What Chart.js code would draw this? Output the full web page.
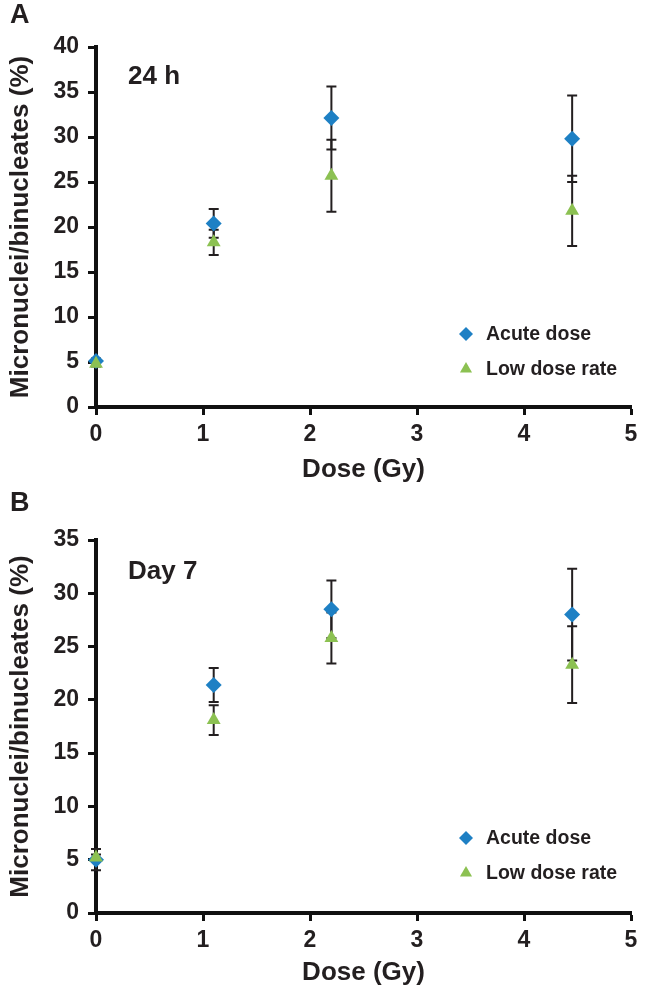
<!DOCTYPE html>
<html>
<head>
<meta charset="utf-8">
<script src="https://cdn.jsdelivr.net/npm/chart.js@4.4.1/dist/chart.umd.min.js"></script>
<style>
    body { margin: 0; background: #fff; position: relative; }
    canvas { display: block; }
    .tag {
        position: absolute; left: 10px;
        font: bold 27px "Liberation Sans", Arial, sans-serif;
        line-height: 27px; color: #231f20;
    }
</style>
</head>
<body>
<span class="tag" style="top:1px">A</span>
<span class="tag" style="top:489px">B</span>
<canvas id="chartA" width="647" height="497"></canvas>
<canvas id="chartB" width="647" height="497"></canvas>
<script>
const doses = [0, 1.1, 2.2, 4.45];
const doseTicks = [0, 1, 2, 3, 4, 5];
const seriesLabels = ["Acute dose", "Low dose rate"];

// panel A, 24 h
const acute24h = [5.1, 20.4, 32.1, 29.8];
const acute24hErr = [0.3, 1.6, 3.5, 4.8];
const lowRate24h = [4.8, 18.3, 25.7, 21.8];
const lowRate24hErr = [0.3, 1.4, 4.0, 3.9];

// panel B, day 7
const acuteDay7 = [5.0, 21.4, 28.5, 28.0];
const acuteDay7Err = [1.0, 1.6, 2.7, 4.3];
const lowRateDay7 = [5.2, 18.1, 25.8, 23.3];
const lowRateDay7Err = [0.3, 1.4, 2.4, 3.6];

const FONT = '"Liberation Sans", Arial, sans-serif';
const INK = "#231f20";
const BLUE = "#1e80c4";
const GREEN = "#8cc152";

// vertical error bars with caps, under the markers
const errorBars = {
    id: "errorBars",
    beforeDatasetsDraw(chart) {
        const ctx = chart.ctx;
        const xs = chart.scales.x;
        const ys = chart.scales.y;
        ctx.save();
        ctx.strokeStyle = INK;
        ctx.lineWidth = 2;
        chart.data.datasets.forEach((ds) => {
            ds.data.forEach((pt, i) => {
                const e = ds.errors[i];
                const px = xs.getPixelForValue(pt.x);
                const top = ys.getPixelForValue(pt.y + e);
                const bot = ys.getPixelForValue(pt.y - e);
                ctx.beginPath();
                ctx.moveTo(px, top);
                ctx.lineTo(px, bot);
                ctx.moveTo(px - 5, top);
                ctx.lineTo(px + 5, top);
                ctx.moveTo(px - 5, bot);
                ctx.lineTo(px + 5, bot);
                ctx.stroke();
            });
        });
        ctx.restore();
    },
};

// legend in the lower right corner of the plot + the "24 h" / "Day 7" note
const panelText = {
    id: "panelText",
    afterDraw(chart, args, opts) {
        const ctx = chart.ctx;
        const area = chart.chartArea;
        ctx.save();
        ctx.textBaseline = "middle";
        ctx.fillStyle = INK;
        ctx.font = "bold 26px " + FONT;
        ctx.fillText(opts.note, area.left + 32, area.top + opts.noteY);

        ctx.font = "bold 19.5px " + FONT;
        chart.data.datasets.forEach((ds, i) => {
            const y = area.bottom - opts.legendY + i * 35;
            ctx.fillStyle = ds.backgroundColor;
            Chart.helpers.drawPoint(ctx, { pointStyle: ds.pointStyle, radius: 7, borderWidth: 0, rotation: 0 }, area.right - 165, y);
            ctx.fillStyle = INK;
            ctx.fillText(ds.label, area.right - 145, y + 1);
        });
        ctx.restore();
    },
};

function buildChart(id, cfg) {
    const tickFont = { family: FONT, size: 23, weight: "bold" };
    const titleFont = { family: FONT, size: 26, weight: "bold" };
    return new Chart(document.getElementById(id), {
        type: "scatter",
        data: {
            datasets: [
                {
                    label: seriesLabels[0],
                    data: doses.map((d, i) => ({ x: d, y: cfg.acute[i] })),
                    errors: cfg.acuteErr,
                    pointStyle: "rectRot",
                    pointRadius: 8,
                    pointHoverRadius: 8,
                    pointBorderWidth: 0,
                    backgroundColor: BLUE,
                    order: 1,
                    clip: false,
                },
                {
                    label: seriesLabels[1],
                    data: doses.map((d, i) => ({ x: d, y: cfg.low[i] })),
                    errors: cfg.lowErr,
                    pointStyle: "triangle",
                    pointRadius: 8,
                    pointHoverRadius: 8,
                    pointBorderWidth: 0,
                    backgroundColor: GREEN,
                    order: 0,
                    clip: false,
                },
            ],
        },
        options: {
            responsive: false,
            animation: false,
            layout: { padding: { top: cfg.padTop, right: 16, bottom: cfg.padBottom, left: 0 } },
            plugins: {
                legend: { display: false },
                tooltip: { enabled: false },
                panelText: { note: cfg.note, noteY: cfg.noteY, legendY: cfg.legendY },
            },
            scales: {
                x: {
                    type: "linear",
                    min: 0,
                    max: 5,
                    afterBuildTicks: (s) => { s.ticks = doseTicks.map((v) => ({ value: v })); },
                    afterFit: (s) => { s.height = cfg.xAxisHeight; },
                    border: { display: true, width: 4, color: "#111" },
                    grid: { drawOnChartArea: false, tickLength: 8, tickWidth: 3, tickColor: "#111" },
                    ticks: { font: tickFont, color: INK, padding: 6 },
                    title: { display: true, text: "Dose (Gy)", font: titleFont, color: INK },
                },
                y: {
                    min: 0,
                    max: cfg.yMax,
                    ticks: { stepSize: 5, font: tickFont, color: INK, padding: 9 },
                    afterFit: (s) => { s.width = 96; },
                    border: { display: true, width: 4, color: "#111" },
                    grid: { drawOnChartArea: false, tickLength: 8, tickWidth: 3, tickColor: "#111" },
                    title: {
                        display: true,
                        text: "Micronuclei/binucleates (%)",
                        font: titleFont,
                        color: INK,
                        padding: { top: 5, bottom: 4 },
                    },
                },
            },
        },
        plugins: [errorBars, panelText],
    });
}

buildChart("chartA", {
    acute: acute24h, acuteErr: acute24hErr,
    low: lowRate24h, lowErr: lowRate24hErr,
    yMax: 40, note: "24 h", noteY: 30, legendY: 73,
    padTop: 47, padBottom: 8, xAxisHeight: 82,
});

buildChart("chartB", {
    acute: acuteDay7, acuteErr: acuteDay7Err,
    low: lowRateDay7, lowErr: lowRateDay7Err,
    yMax: 35, note: "Day 7", noteY: 32, legendY: 75,
    padTop: 43, padBottom: 2, xAxisHeight: 79,
});
</script>
</body>
</html>
